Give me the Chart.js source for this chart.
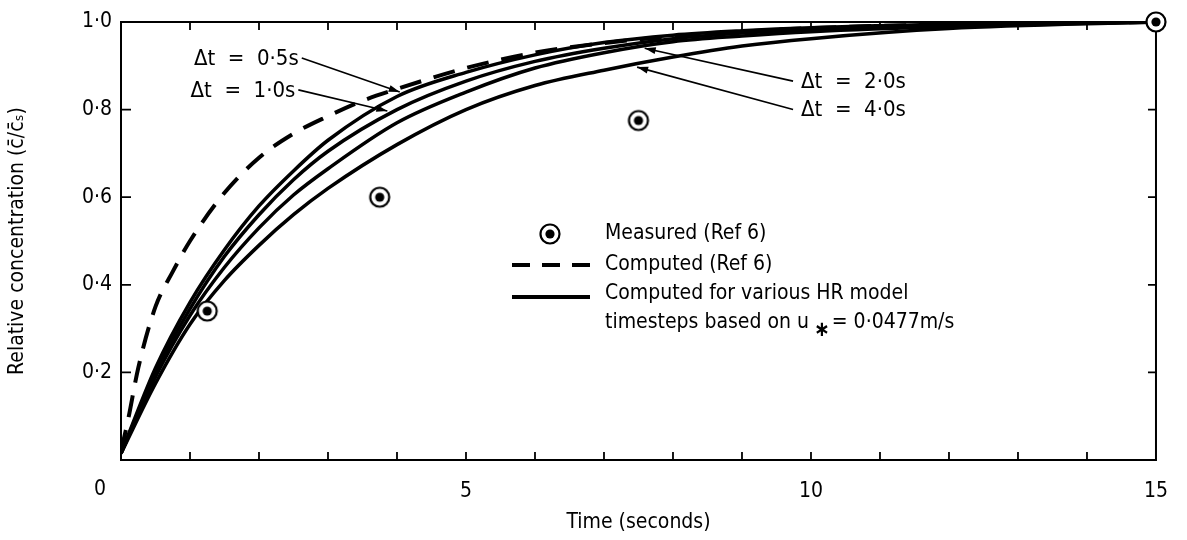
<!DOCTYPE html>
<html lang="en">
<head>
<meta charset="UTF-8">
<title>Relative concentration against time</title>
<script src="https://cdn.jsdelivr.net/npm/chart.js"></script>
<style>
  html, body { margin: 0; padding: 0; background: #fff; }
  #wrap { width: 1187px; height: 540px; }
</style>
</head>
<body>
<div id="wrap"><canvas id="chart"></canvas></div>
<script>
// time axis shared by the four HR model runs (seconds)
const timeS = [0, 0.5, 1, 1.5, 2, 2.5, 3, 4, 5, 6, 7, 8, 9, 10, 12, 15];
const dt05 = [0.015, 0.21, 0.36, 0.48, 0.58, 0.66, 0.73, 0.83, 0.885, 0.925, 0.953, 0.970, 0.980, 0.987, 0.995, 1.0];
const dt10 = [0.015, 0.20, 0.345, 0.465, 0.56, 0.64, 0.705, 0.80, 0.865, 0.91, 0.94, 0.962, 0.975, 0.983, 0.993, 1.0];
const dt20 = [0.015, 0.19, 0.33, 0.44, 0.53, 0.605, 0.665, 0.77, 0.84, 0.895, 0.93, 0.955, 0.968, 0.978, 0.99, 1.0];
const dt40 = [0.015, 0.175, 0.31, 0.41, 0.49, 0.56, 0.62, 0.72, 0.80, 0.855, 0.89, 0.92, 0.945, 0.962, 0.985, 1.0];

// computed curve from Ref 6 (dashed)
const refTime = [0, 0.1, 0.25, 0.5, 0.75, 1, 1.5, 2, 2.5, 3, 3.5, 4, 5, 6, 7, 8, 9, 10, 12, 15];
const refComputed = [0.02, 0.09, 0.21, 0.35, 0.43, 0.50, 0.61, 0.69, 0.745, 0.785, 0.82, 0.847, 0.895, 0.93, 0.952, 0.967, 0.978, 0.986, 0.995, 1.0];

// measured points from Ref 6
const measTime = [1.25, 3.75, 7.5, 15];
const measValue = [0.34, 0.60, 0.775, 1.0];

const xTicks = [0, 5, 10, 15];
const yTicks = [0.2, 0.4, 0.6, 0.8, 1.0];

const FONT = '"DejaVu Sans Condensed", "DejaVu Sans", sans-serif';

function pts(xs, ys) {
    return xs.map((x, i) => ({ x: x, y: ys[i] }));
}

// ring with a dot in the middle
function makeMarker() {
    const c = document.createElement('canvas');
    c.width = 26; c.height = 26;
    const g = c.getContext('2d');
    g.fillStyle = '#fff';
    g.strokeStyle = '#000';
    g.lineWidth = 2.2;
    g.beginPath(); g.arc(13, 13, 9.5, 0, Math.PI * 2); g.fill(); g.stroke();
    g.fillStyle = '#000';
    g.beginPath(); g.arc(13, 13, 4.6, 0, Math.PI * 2); g.fill();
    return c;
}
const marker = makeMarker();

function solid(data) {
    return {
        data: data,
        borderColor: '#000',
        borderWidth: 3.5,
        pointRadius: 0,
        cubicInterpolationMode: 'monotone',
        fill: false
    };
}

// frame box and inward ticks
const framePlugin = {
    id: 'frame',
    beforeDatasetsDraw(chart) {
        const { ctx, chartArea: a, scales: { x, y } } = chart;
        ctx.save();
        ctx.strokeStyle = '#000';
        ctx.lineWidth = 2;
        ctx.strokeRect(a.left, a.top, a.right - a.left, a.bottom - a.top);
        ctx.lineWidth = 1.8;
        ctx.beginPath();
        for (let t = 1; t < 15; t++) {
            const px = x.getPixelForValue(t);
            ctx.moveTo(px, a.bottom); ctx.lineTo(px, a.bottom - 8);
            ctx.moveTo(px, a.top); ctx.lineTo(px, a.top + 8);
        }
        for (let v = 0.2; v < 0.99; v += 0.2) {
            const py = y.getPixelForValue(v);
            ctx.moveTo(a.left, py); ctx.lineTo(a.left + 10, py);
            ctx.moveTo(a.right, py); ctx.lineTo(a.right - 8, py);
        }
        ctx.stroke();
        ctx.restore();
    }
};

// arrowed labels for the timestep curves
const stepNotes = [
    { text: 'Δt  =  0·5s', from: [2.62, 0.918], to: [4.04, 0.84], align: 'right' },
    { text: 'Δt  =  1·0s', from: [2.57, 0.845], to: [3.86, 0.797], align: 'right' },
    { text: 'Δt  =  2·0s', from: [9.74, 0.865], to: [7.59, 0.94], align: 'left' },
    { text: 'Δt  =  4·0s', from: [9.74, 0.80], to: [7.48, 0.897], align: 'left' }
];

const notesPlugin = {
    id: 'notes',
    afterDraw(chart) {
        const { ctx, scales: { x, y } } = chart;
        ctx.save();
        ctx.fillStyle = '#000';
        ctx.strokeStyle = '#000';
        ctx.font = '22px ' + FONT;
        ctx.textBaseline = 'middle';

        stepNotes.forEach(n => {
            const x0 = x.getPixelForValue(n.from[0]), y0 = y.getPixelForValue(n.from[1]);
            const x1 = x.getPixelForValue(n.to[0]), y1 = y.getPixelForValue(n.to[1]);
            ctx.lineWidth = 1.6;
            ctx.beginPath(); ctx.moveTo(x0, y0); ctx.lineTo(x1, y1); ctx.stroke();
            const ang = Math.atan2(y1 - y0, x1 - x0);
            ctx.beginPath();
            ctx.moveTo(x1, y1);
            ctx.lineTo(x1 - 11 * Math.cos(ang) + 3.5 * Math.sin(ang), y1 - 11 * Math.sin(ang) - 3.5 * Math.cos(ang));
            ctx.lineTo(x1 - 11 * Math.cos(ang) - 3.5 * Math.sin(ang), y1 - 11 * Math.sin(ang) + 3.5 * Math.cos(ang));
            ctx.closePath(); ctx.fill();
            ctx.textAlign = n.align;
            ctx.fillText(n.text, n.align === 'right' ? x0 - 3 : x0 + 8, y0 + 1);
        });

        // legend block
        const lx = 512, tx = 605;
        ctx.font = '21px ' + FONT;
        ctx.drawImage(marker, 550 - 13, 234 - 13);
        ctx.lineWidth = 4;
        ctx.setLineDash([18, 12]);
        ctx.beginPath(); ctx.moveTo(lx, 265); ctx.lineTo(lx + 78, 265); ctx.stroke();
        ctx.setLineDash([]);
        ctx.beginPath(); ctx.moveTo(lx, 297); ctx.lineTo(lx + 78, 297); ctx.stroke();

        ctx.textAlign = 'left';
        ctx.fillText('Measured (Ref 6)', tx, 234);
        ctx.fillText('Computed (Ref 6)', tx, 265);
        ctx.fillText('Computed for various HR model', tx, 294);
        let s = 'timesteps based on u';
        ctx.fillText(s, tx, 323);
        let cx = tx + ctx.measureText(s).width + 5;
        ctx.font = 'bold 21px ' + FONT;
        ctx.fillText('∗', cx, 331);
        cx += ctx.measureText('∗').width + 2;
        ctx.font = '21px ' + FONT;
        ctx.fillText('= 0·0477m/s', cx, 323);

        // origin label sits left of the corner
        ctx.textAlign = 'center';
        ctx.fillText('0', x.left - 21, x.bottom - 50);
        ctx.restore();
    }
};

new Chart(document.getElementById('chart'), {
    type: 'line',
    data: {
        datasets: [
            {
                data: pts(measTime, measValue),
                showLine: false,
                pointStyle: marker,
                pointRadius: 10,
                clip: false,
                order: 0
            },
            {
                data: pts(refTime, refComputed),
                borderColor: '#000',
                borderWidth: 4,
                borderDash: [22, 13],
                pointRadius: 0,
                cubicInterpolationMode: 'monotone',
                fill: false,
                order: 1
            },
            Object.assign(solid(pts(timeS, dt05)), { order: 2 }),
            Object.assign(solid(pts(timeS, dt10)), { order: 3 }),
            Object.assign(solid(pts(timeS, dt20)), { order: 4 }),
            Object.assign(solid(pts(timeS, dt40)), { order: 5 })
        ]
    },
    options: {
        responsive: true,
        maintainAspectRatio: false,
        animation: false,
        layout: { padding: { top: 22, right: 30, left: 0, bottom: 0 } },
        plugins: {
            legend: { display: false },
            tooltip: { enabled: false }
        },
        scales: {
            x: {
                type: 'linear',
                min: 0,
                max: 15,
                afterFit(s) { s.height = 80; },
                afterBuildTicks(s) { s.ticks = xTicks.map(v => ({ value: v })); },
                grid: { display: false, drawTicks: false },
                border: { display: false },
                ticks: {
                    color: '#000',
                    padding: 19,
                    maxRotation: 0,
                    font: { family: FONT, size: 21 },
                    callback: v => (v === 0 ? '' : String(v))
                },
                title: {
                    display: true,
                    text: 'Time (seconds)',
                    color: '#000',
                    font: { family: FONT, size: 21 },
                    padding: { top: 0, bottom: 5 }
                }
            },
            y: {
                type: 'linear',
                min: 0,
                max: 1,
                afterFit(s) { s.width = 121; },
                afterBuildTicks(s) { s.ticks = yTicks.map(v => ({ value: v })); },
                grid: { display: false, drawTicks: false },
                border: { display: false },
                ticks: {
                    color: '#000',
                    padding: 9,
                    font: { family: FONT, size: 21 },
                    callback: v => v.toFixed(1).replace('.', '·')
                },
                title: {
                    display: true,
                    text: 'Relative concentration (c̄/c̄ₛ)',
                    color: '#000',
                    font: { family: FONT, size: 21 },
                    padding: { top: 5, bottom: 0 }
                }
            }
        }
    },
    plugins: [framePlugin, notesPlugin]
});
</script>
</body>
</html>
